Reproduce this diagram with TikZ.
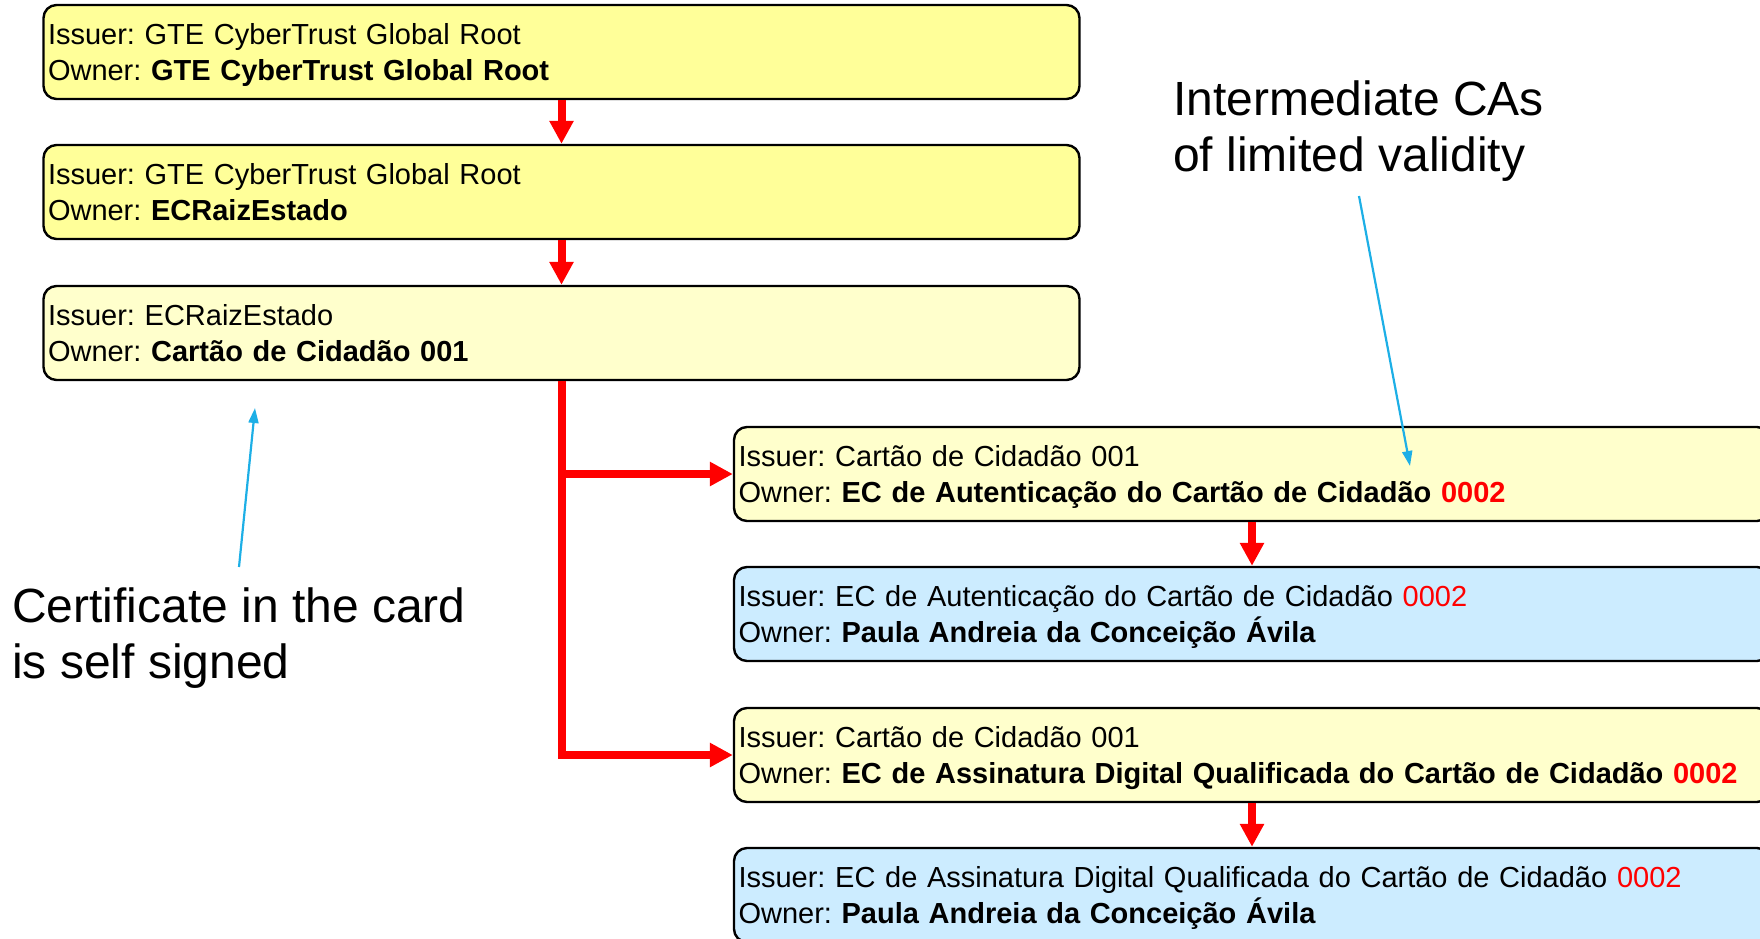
\documentclass[tikz,border=0pt]{standalone}
\usepackage{fontspec}
\setmainfont{Liberation Sans}
\frenchspacing
\usetikzlibrary{arrows.meta}
\definecolor{ylw}{RGB}{255,255,153}
\definecolor{pale}{RGB}{255,255,204}
\definecolor{lblue}{RGB}{204,236,255}
\definecolor{notecol}{RGB}{29,175,230}
\definecolor{chainred}{RGB}{255,0,0}
\begin{document}
\begin{tikzpicture}[x=1pt,y=-1pt,
  cert/.style={draw=black, line width=2.4pt, rounded corners=13pt,
    minimum width=1036pt, minimum height=94pt, text width=1027pt,
    inner xsep=4.5pt, inner ysep=0pt, align=left,
    font=\fontsize{29}{36}\selectfont\frenchspacing,
    execute at begin node={\rule{0pt}{27pt}},
    execute at end node={\vphantom{gy}}},
  chainarrow/.style={draw=chainred, line width=8pt, -{Triangle[width=23pt,length=23pt]}},
  notearrow/.style={draw=notecol, line width=2.2pt, -{Triangle[width=10pt,length=15pt]}},
  bignote/.style={align=left, inner sep=0pt, anchor=north west,
    font=\fontsize{48}{56}\selectfont}
]
\useasboundingbox (0,0) rectangle (1760,938);

\node[cert, fill=ylw] (b1) at (561.5,52) {Issuer: GTE CyberTrust Global Root\\Owner: \textbf{GTE CyberTrust Global Root}};
\node[cert, fill=ylw] (b2) at (561.5,192) {Issuer: GTE CyberTrust Global Root\\Owner: \textbf{ECRaizEstado}};
\node[cert, fill=pale] (b3) at (561.5,333) {Issuer: ECRaizEstado\\Owner: \textbf{Cartão de Cidadão 001}};
\node[cert, fill=pale] (b4) at (1252,474) {Issuer: Cartão de Cidadão 001\\Owner: \textbf{EC de Autenticação do Cartão de Cidadão \textcolor{chainred}{0002}}};
\node[cert, fill=lblue] (b5) at (1252,614) {Issuer: EC de Autenticação do Cartão de Cidadão \textcolor{chainred}{0002}\\Owner: \textbf{Paula Andreia da Conceição Ávila}};
\node[cert, fill=pale] (b6) at (1252,755) {Issuer: Cartão de Cidadão 001\\Owner: \textbf{EC de Assinatura Digital Qualificada do Cartão de Cidadão \textcolor{chainred}{0002}}};
\node[cert, fill=lblue] (b7) at (1252,895) {Issuer: EC de Assinatura Digital Qualificada do Cartão de Cidadão \textcolor{chainred}{0002}\\Owner: \textbf{Paula Andreia da Conceição Ávila}};

\draw[chainarrow] (b1) -- (b2);
\draw[chainarrow] (b2) -- (b3);
\draw[chainarrow] (b3.south) -- (b3.south |- b6.west) -- (b6.west);
\draw[chainarrow] (b3.south |- b4.west) -- (b4.west);
\draw[chainarrow] (b4) -- (b5);
\draw[chainarrow] (b6) -- (b7);

\node[bignote] (selfsigned) at (12,588) {Certificate in the card\\is self signed};
\node[bignote] (limited) at (1173,81) {Intermediate CAs\\of limited validity};

\coordinate (s1) at (239,567);
\coordinate (e1) at (255,408);
\coordinate (s2) at (1359,196);
\coordinate (e2) at (1410,466);
\draw[notearrow] (s1) -- (e1);
\draw[notearrow] (s2) -- (e2);
\end{tikzpicture}
\end{document}
